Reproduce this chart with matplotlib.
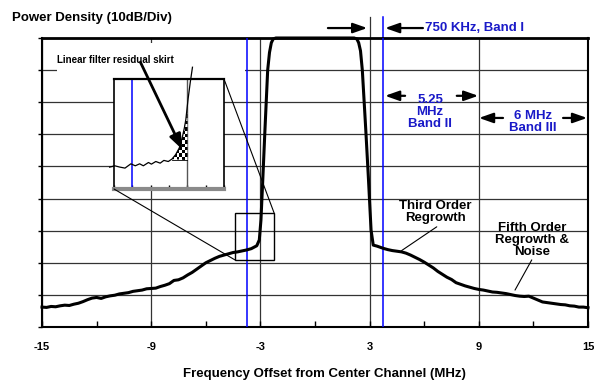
import numpy as np
import matplotlib
matplotlib.use('Agg')
import matplotlib.pyplot as plt
from matplotlib.patches import Rectangle, Polygon, ConnectionPatch

plt.rcParams['font.family'] = ['Liberation Sans', 'DejaVu Sans']
plt.rcParams['font.weight'] = 'bold'

# spectrum level in 10 dB divisions above the bottom of the plot
freq_mhz = [-15.0, -14.75, -14.5, -14.25, -14.0, -13.75, -13.5, -13.25, -13.0, -12.75,
            -12.5, -12.25, -12.0, -11.75, -11.5, -11.25, -11.0, -10.75, -10.5, -10.25,
            -10.0, -9.75, -9.5, -9.25, -9.0, -8.75, -8.5, -8.25, -8.0, -7.75,
            -7.5, -7.25, -7.0, -6.75, -6.5, -6.25, -6.0, -5.75, -5.5, -5.25,
            -5.0, -4.75, -4.5, -4.25, -4.0, -3.75, -3.5, -3.3, -3.2, -3.06,
            -2.97, -2.87, -2.75, -2.6, -2.5, -2.4, -2.3, -2.15, -1.0, 0.0,
            1.0, 2.15, 2.3, 2.4, 2.5, 2.6, 2.79, 2.94, 3.08, 3.2,
            3.4, 3.6, 3.75, 4.0, 4.25, 4.5, 4.75, 5.0, 5.25, 5.5,
            5.75, 6.0, 6.25, 6.5, 6.75, 7.0, 7.25, 7.5, 7.75, 8.0,
            8.25, 8.5, 8.75, 9.0, 9.25, 9.5, 9.75, 10.0, 10.25, 10.5,
            10.75, 11.0, 11.25, 11.5, 11.75, 12.0, 12.25, 12.5, 12.75, 13.0,
            13.25, 13.5, 13.75, 14.0, 14.25, 14.5, 14.75, 15.0]
level_div = [0.62, 0.61, 0.64, 0.63, 0.66, 0.68, 0.67, 0.71, 0.74, 0.79,
             0.85, 0.90, 0.92, 0.89, 0.94, 0.97, 0.99, 1.03, 1.05, 1.07,
             1.11, 1.13, 1.15, 1.19, 1.20, 1.21, 1.26, 1.30, 1.35, 1.45,
             1.47, 1.53, 1.62, 1.70, 1.80, 1.90, 2.00, 2.07, 2.14, 2.20,
             2.24, 2.28, 2.32, 2.34, 2.37, 2.40, 2.44, 2.50, 2.53, 2.71,
             3.33, 4.58, 6.14, 8.00, 8.55, 8.85, 8.97, 9.00, 9.00, 9.00,
             9.00, 9.00, 8.97, 8.85, 8.60, 8.00, 6.14, 4.58, 3.02, 2.55,
             2.52, 2.48, 2.45, 2.41, 2.38, 2.36, 2.34, 2.30, 2.24, 2.17,
             2.10, 2.02, 1.93, 1.84, 1.73, 1.64, 1.55, 1.48, 1.38, 1.33,
             1.28, 1.24, 1.20, 1.17, 1.15, 1.12, 1.09, 1.08, 1.06, 1.04,
             1.01, 0.98, 0.96, 0.95, 0.96, 0.90, 0.84, 0.78, 0.76, 0.74,
             0.72, 0.70, 0.69, 0.66, 0.65, 0.62, 0.62, 0.60]

band_lines_mhz = [-3.75, 3.75]
x_labels = [-15, -9, -3, 3, 9, 15]
x_minor = [-12, -6, 0, 6, 12]

# inset: zoom on the lower skirt
inset_mhz = [-4.06, -3.99, -3.92, -3.85, -3.77, -3.71, -3.65, -3.60, -3.53, -3.49,
             -3.43, -3.37, -3.32, -3.26, -3.21, -3.16, -3.11, -3.07, -3.04, -3.02,
             -2.99, -2.96, -2.93]
inset_level = [1.99, 2.11, 1.99, 1.90, 2.29, 2.11, 2.29, 2.11, 2.41, 2.26,
               2.50, 2.35, 2.60, 2.50, 2.72, 3.12, 3.73, 4.65, 5.57, 6.33,
               8.17, 9.70, 11.07]
fill_mhz = [-3.21, -3.16, -3.11, -3.07, -3.04, -3.02, -3.0, -3.0]
fill_level = [2.72, 3.12, 3.73, 4.65, 5.57, 6.33, 6.9, 2.62]
inset_ticks = [-4.0, -3.75, -3.5, -3.25, -3.0, -2.75, -2.5]

blue = '#0000ff'
blue_text = '#1a1ac8'
grid_c = '#333333'

fig = plt.figure(figsize=(5.94, 3.83), dpi=100)
ax = fig.add_axes([42 / 594, 1 - 327 / 383, 546 / 594, 289 / 383])
ax.set_xlim(-15, 15)
ax.set_ylim(0, 9)
ax.set_xticks(x_labels)
ax.set_xticklabels([str(v) for v in x_labels])
ax.set_xticks(x_minor, minor=True)
ax.set_yticks(range(10))
ax.set_yticklabels([])
ax.set_axisbelow(True)
ax.grid(True, which='major', color=grid_c, lw=0.9)
ax.tick_params(axis='x', which='both', direction='in', length=4, width=1, pad=11, labelsize=8)
ax.tick_params(axis='y', direction='out', length=3, width=1)
for s in ax.spines.values():
    s.set_linewidth(1.5)
ax.spines['top'].set_linewidth(2)

# white patch behind the skirt label
ax.add_patch(Rectangle((-14.18, 7.73), 10.33, 1.1, facecolor='white', edgecolor='none', zorder=1.5))
ax.text(-10.99, 8.32, 'Linear filter residual skirt', ha='center', va='center',
        fontsize=7.0, zorder=6)

for x in band_lines_mhz:
    ax.axvline(x, color=blue, lw=1.1, zorder=4)
ax.plot([3, 3], [9, 9.66], color=grid_c, lw=0.9, clip_on=False)
ax.plot([3.75, 3.75], [9, 9.66], color=blue, lw=1.1, clip_on=False)

ax.plot(freq_mhz, level_div, color='k', lw=2.2, zorder=5, clip_on=False)

ax.add_patch(Rectangle((-4.40, 2.09), 2.16, 1.45, fill=False, ec='k', lw=1, zorder=6))

arrow_kw = dict(arrowstyle='-|>,head_length=0.85,head_width=0.3', color='k', lw=1.6,
                shrinkA=0, shrinkB=0)
for tail, head, y in [(0.71, 2.87, 9.31), (5.93, 3.85, 9.31),
                      (4.95, 3.85, 7.2), (7.79, 8.97, 7.2),
                      (10.33, 9.01, 6.51), (13.63, 14.95, 6.51)]:
    ax.annotate('', xy=(head, y), xytext=(tail, y), arrowprops=arrow_kw, annotation_clip=False)

ax.text(6.04, 9.31, '750 KHz, Band I', color=blue_text, fontsize=9.5, ha='left', va='center')
ax.text(6.32, 6.71, '5.25\nMHz\nBand II', color=blue_text, fontsize=9.5, ha='center',
        va='center', linespacing=1.0)
ax.text(11.98, 6.39, '6 MHz\nBand III', color=blue_text, fontsize=9.5, ha='center',
        va='center', linespacing=1.0)

lead_kw = dict(arrowstyle='-', color='k', lw=0.8, shrinkA=0, shrinkB=0)
ax.text(6.63, 3.57, 'Third Order\nRegrowth', fontsize=9.5, ha='center', va='center', linespacing=1.0)
ax.annotate('', xy=(4.76, 2.38), xytext=(6.69, 3.12), arrowprops=lead_kw)
ax.text(11.91, 2.72, 'Fifth Order\nRegrowth &\nNoise', fontsize=9.5, ha='center', va='center',
        linespacing=1.0)
ax.annotate('', xy=(10.99, 1.15), xytext=(11.91, 2.09), arrowprops=lead_kw)

# inset
axin = fig.add_axes([114 / 594, 1 - 189 / 383, 110 / 594, 110 / 383])
axin.set_xlim(-4, -2.5)
axin.set_ylim(0, 10)
axin.set_xticks(inset_ticks)
axin.set_yticks([])
axin.tick_params(axis='x', direction='in', length=3, width=1, labelbottom=False)
for s in axin.spines.values():
    s.set_linewidth(1.2)
axin.spines['top'].set_linewidth(1.6)
axin.spines['bottom'].set_color('#8a8a8a')
axin.spines['bottom'].set_linewidth(3)
axin.axvline(-3.75, color=blue, lw=1.1)
axin.axvline(-3.0, color='#555555', lw=1)

poly = Polygon(list(zip(fill_mhz, fill_level)), closed=True, facecolor='none', edgecolor='none',
               transform=axin.transData)
axin.add_patch(poly)
ny, nx = 15, 6
checker = (np.add.outer(np.arange(ny), np.arange(nx)) % 2).astype(float)
im = axin.imshow(checker, extent=(-3.22, -3.0, 2.6, 7.0), cmap='gray', interpolation='nearest',
                 aspect='auto', zorder=3, origin='lower')
im.set_clip_path(poly)
axin.set_xlim(-4, -2.5)
axin.set_ylim(0, 10)
axin.plot(inset_mhz, inset_level, color='k', lw=0.9, clip_on=False, zorder=4)
axin.plot([fill_mhz[0], fill_mhz[-1]], [fill_level[-1], fill_level[-1]], color='k', lw=0.6, zorder=4)

axin.annotate('', xy=(-3.07, 3.6), xytext=(-3.64, 11.53), annotation_clip=False,
              arrowprops=dict(arrowstyle='-|>,head_length=0.9,head_width=0.35', color='k',
                              lw=2, shrinkA=0, shrinkB=0))

for a, b in [((-4, 0), (-4.40, 2.09)), ((-2.5, 10), (-2.24, 3.54))]:
    con = ConnectionPatch(xyA=a, coordsA=axin.transData, xyB=b, coordsB=ax.transData,
                          color='k', lw=0.8)
    fig.add_artist(con)

fig.text(12 / 594, 1 - 18 / 383, 'Power Density (10dB/Div)', fontsize=9.5, ha='left', va='center')
fig.text(324.7 / 594, 1 - 374.3 / 383, 'Frequency Offset from Center Channel (MHz)',
         fontsize=9.5, ha='center', va='center')

fig.savefig('out.png', dpi=100)
